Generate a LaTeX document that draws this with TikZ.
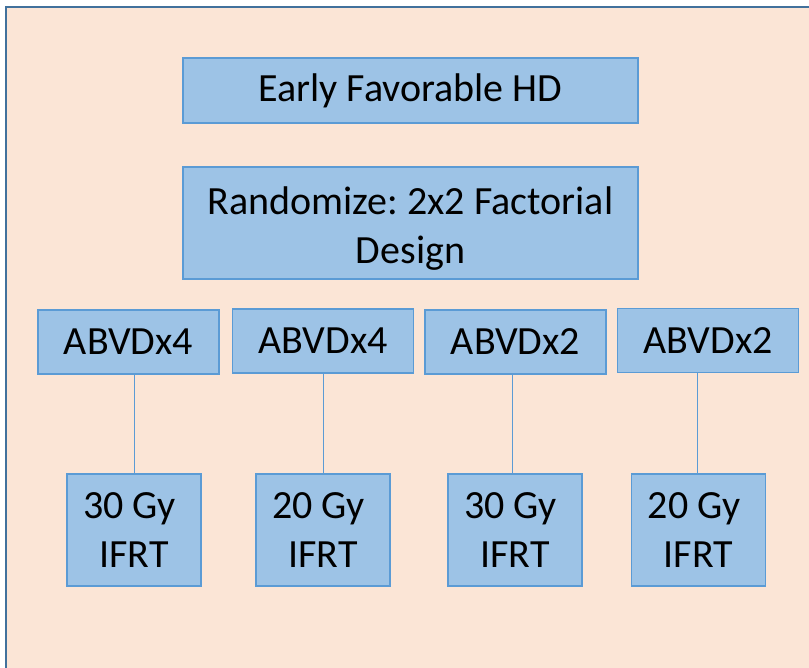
\documentclass[tikz,border=0pt]{standalone}
\usepackage{fontspec}
\setmainfont{Carlito}
\usepackage{tikz}
\usetikzlibrary{positioning}
\definecolor{peach}{HTML}{FBE5D6}
\definecolor{boxblue}{HTML}{9DC3E6}
\definecolor{edgeblue}{HTML}{5B9BD5}
\definecolor{frameblue}{HTML}{41719C}
\tikzstyle{box} = [rectangle, draw=edgeblue, fill=boxblue, line width=1.2pt, align=center, inner sep=0pt, font=\fontsize{40}{49}\selectfont]
\tikzstyle{chemo} = [box, minimum width=181pt, minimum height=64pt]
\tikzstyle{radio} = [box, minimum width=134pt, minimum height=112pt]
\tikzstyle{link} = [draw=edgeblue, line width=0.8pt]
\frenchspacing

\begin{document}
\begin{tikzpicture}[x=1pt, y=-1pt]
		\useasboundingbox (0,0) rectangle (809,668);
		\clip (0,0) rectangle (809,668);
		\draw[frameblue, line width=2pt, fill=peach] (6,7) rectangle (830,690);

		\node (Early) [box, minimum width=455pt, minimum height=65pt] at (410.5,90.5) {Early Favorable HD};
		\node (Randomize) [box, minimum width=455pt, minimum height=112pt] at (410.5,223) {\rule{0pt}{38pt}Randomize: 2x2 Factorial\\Design};

		\node (ChemoOne) [chemo] at (128.5,342) {ABVDx4};
		\node (ChemoTwo) [chemo] at (323,341) {ABVDx4};
		\node (ChemoThree) [chemo] at (515.5,342) {ABVDx2};
		\node (ChemoFour) [chemo] at (708,340.5) {ABVDx2};

		\node (RadioOne) [radio] at (134,530) {30 Gy\hphantom{\ }\\IFRT};
		\node (RadioTwo) [radio] at (323,530) {20 Gy\hphantom{\ }\\IFRT};
		\node (RadioThree) [radio] at (515,530) {30 Gy\hphantom{\ }\\IFRT};
		\node (RadioFour) [radio] at (698.5,530) {20 Gy\hphantom{\ }\\IFRT};

		\draw [link] (RadioOne.north) -- (RadioOne.north |- ChemoOne.south);
		\draw [link] (RadioTwo.north) -- (RadioTwo.north |- ChemoTwo.south);
		\draw [link] ([xshift=-3pt]RadioThree.north) -- ([xshift=-3pt]RadioThree.north |- ChemoThree.south);
		\draw [link] ([xshift=-1.5pt]RadioFour.north) -- ([xshift=-1.5pt]RadioFour.north |- ChemoFour.south);
\end{tikzpicture}
\end{document}
